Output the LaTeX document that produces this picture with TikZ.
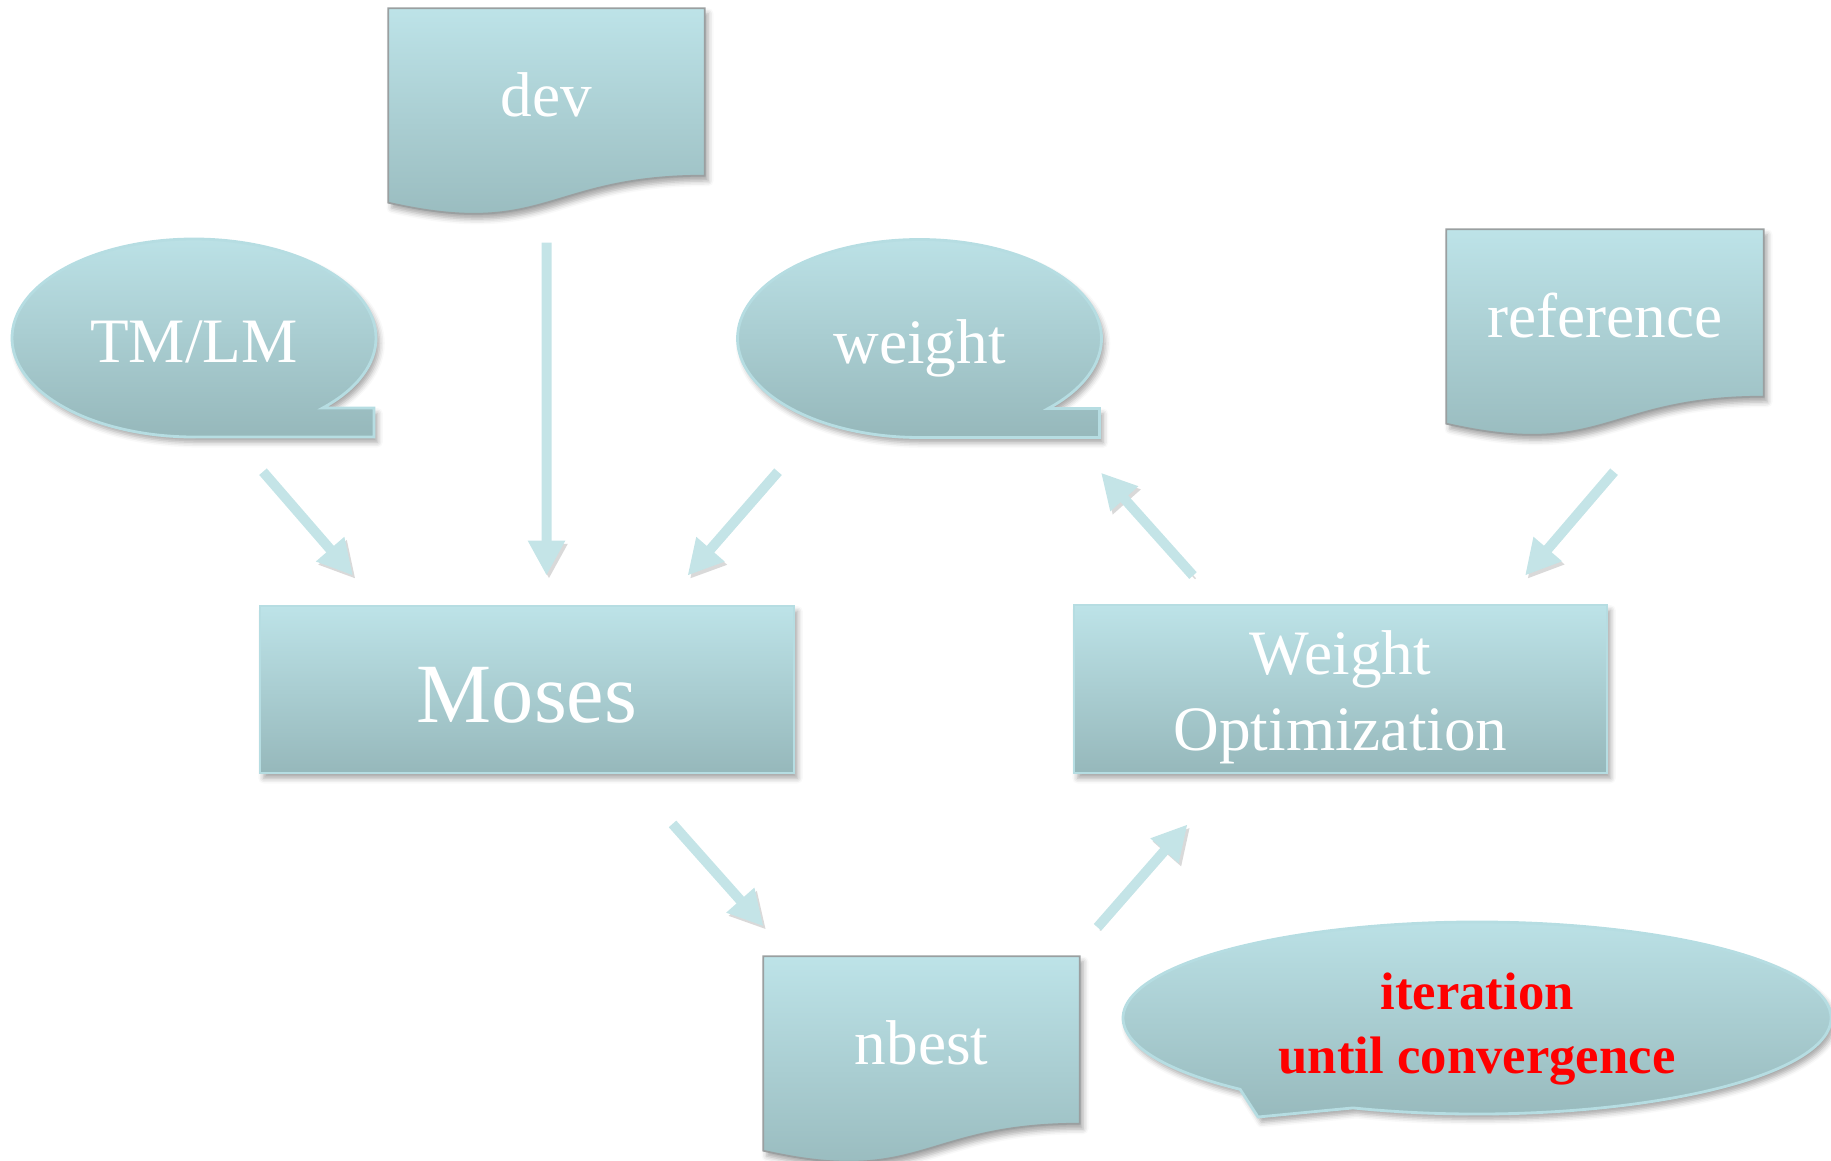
\documentclass[tikz,border=0pt]{standalone}
\usepackage{fontspec}
\setmainfont{Liberation Serif}
\usepackage{tikz}
\usetikzlibrary{arrows.meta,calc,backgrounds,shadows.blur}
\definecolor{shapetop}{HTML}{BDE3E8}
\definecolor{shapebot}{HTML}{96B8BB}
\definecolor{arrowfill}{HTML}{C4E4E7}
\definecolor{boxline}{HTML}{B6DDE2}
\definecolor{docline}{HTML}{9A9FA0}
\tikzset{
  shaded/.style={top color=shapetop, bottom color=shapebot},
  softshadow/.style={blur shadow={shadow xshift=1pt, shadow yshift=-1.5pt, shadow blur radius=1.5pt, shadow opacity=35}},
  label18/.style={text=white, font=\fontsize{18pt}{21.6pt}\selectfont, inner sep=0pt},
  block/.style={rectangle, shaded, draw=boxline, line width=0.8pt, softshadow, label18},
  docarea/.style={rectangle, minimum width=3.15cm, minimum height=1.66cm, label18, text height=15pt, text depth=0.8pt},
  bubblearea/.style={rectangle, minimum width=3.64cm, minimum height=1.98cm, label18, text height=15pt, text depth=0.8pt},
  docfill/.style={shaded, draw=docline, line width=0.5pt, softshadow},
  bubblefill/.style={shaded, draw=boxline, line width=0.8pt, softshadow},
  flowline/.style={-{Triangle[width=3.5mm,length=3.5mm]}, line width=1mm, draw=arrowfill,
    preaction={draw=black, opacity=0.15, transform canvas={xshift=0.7pt,yshift=-0.9pt}}}
}
\newcommand{\docshape}[1]{%
  \path[docfill] (#1.north west) -- (#1.north east) -- (#1.south east)
    .. controls (#1.south) and ($(#1.south)+(0,-0.63)$) .. ($(#1.south west)+(0,-0.27)$) -- cycle;}
\newcommand{\bubbleshape}[1]{%
  \path[bubblefill] ($(#1.center)+(-45:1.82cm and 0.99cm)$)
    arc[start angle=-45, end angle=270, x radius=1.82cm, y radius=0.99cm]
    -- ($(#1.center)+(1.80,-0.99)$) -- ($(#1.center)+(1.80,-0.70)$) -- cycle;}

\begin{document}
\begin{tikzpicture}
  \useasboundingbox (0,0) rectangle (18.31,-11.61);
  \node[docarea] (dev) at (5.465,-0.92) {dev};
  \node[bubblearea] (tmlm) at (1.94,-3.38) {TM/LM};
  \node[bubblearea] (weight) at (9.195,-3.385) {weight};
  \node[docarea, minimum width=3.16cm] (ref) at (16.05,-3.13) {reference};
  \node[block, minimum width=5.34cm, minimum height=1.67cm, font=\fontsize{24pt}{28.8pt}\selectfont,
    text height=20pt, text depth=1pt] (moses) at (5.27,-6.895) {Moses};
  \node[block, minimum width=5.33cm, minimum height=1.68cm, align=center,
    text height=36pt, text depth=0.8pt] (wopt) at (13.405,-6.89) {Weight\\Optimization};
  \node[docarea] (nbest) at (9.215,-10.40) {nbest};
  \node[bubblearea, minimum width=7.08cm, minimum height=1.92cm, text=red, align=center,
    font=\fontsize{15pt}{18pt}\selectfont\bfseries, text height=32pt, text depth=0.7pt]
    (iter) at (14.77,-10.18) {iteration\\until convergence};
  \begin{scope}[on background layer]
    \docshape{dev}
    \docshape{ref}
    \docshape{nbest}
    \bubbleshape{tmlm}
    \bubbleshape{weight}
    \path[bubblefill] ($(iter.center)+(249.5:3.54cm and 0.96cm)$)
      arc[start angle=249.5, end angle=588, x radius=3.54cm, y radius=0.96cm]
      -- ($(iter.center)+(-2.19,-0.99)$) -- cycle;
  \end{scope}
  \draw[flowline] ([shift={(0.69,-0.34)}]tmlm.south) -- ([shift={(-1.74,0.29)}]moses.north);
  \draw[flowline] ([shift={(0,-0.67)}]dev.south) -- ([shift={(0.195,0.29)}]moses.north);
  \draw[flowline] ([shift={(-1.415,-0.335)}]weight.south) -- ([shift={(1.605,0.29)}]moses.north);
  \draw[flowline] ([shift={(-1.475,0.28)}]wopt.north) -- ([shift={(1.815,-0.345)}]weight.south);
  \draw[flowline] ([shift={(0.09,-0.75)}]ref.south) -- ([shift={(1.845,0.28)}]wopt.north);
  \draw[flowline] ([shift={(1.455,-0.495)}]moses.south) -- ([shift={(-1.58,0.30)}]nbest.north);
  \draw[flowline] ([shift={(1.76,0.29)}]nbest.north) -- ([shift={(-1.53,-0.50)}]wopt.south);
\end{tikzpicture}
\end{document}
